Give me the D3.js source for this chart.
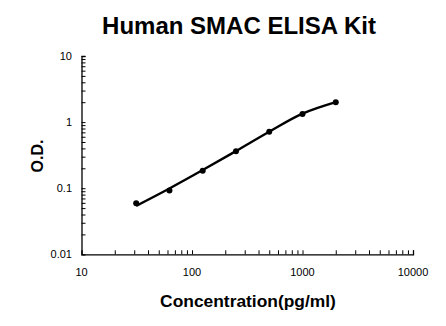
<!DOCTYPE html>
<html><head><meta charset="utf-8">
<script src="https://cdn.jsdelivr.net/npm/d3@7"></script>
<style>body{margin:0;background:#fff}svg{display:block}text{font-family:"Liberation Sans",Arial,sans-serif}</style>
</head><body>
<svg id="c" width="446" height="326"></svg>
<script>
const concentrations = [31.25, 62.5, 125, 250, 500, 1000, 2000];
const odValues = [0.059, 0.092, 0.184, 0.361, 0.716, 1.33, 2.0];
const fitValues = [0.054, 0.099, 0.188, 0.365, 0.715, 1.34, 2.0];
const xTickLabels = [10, 100, 1000, 10000];
const yTickLabels = [0.01, 0.1, 1, 10];
const titleText = "Human SMAC ELISA Kit";
const xLabel = "Concentration(pg/ml)";
const yLabel = "O.D.";

const svg = d3.select("#c");
const x = d3.scaleLog().domain([10, 10000]).range([81.5, 413]);
const y = d3.scaleLog().domain([0.01, 10]).range([254.3, 56]);

const xMinor = [];
for (let d = 10; d < 10000; d *= 10) for (let k = 2; k <= 10; k++) xMinor.push(d * k);
const yMinor = [];
for (let d = 0.01; d < 9; d *= 10) for (let k = 2; k <= 10; k++) yMinor.push(+(d * k).toPrecision(3));

const gx = svg.append("g").attr("transform", "translate(0,254.3)")
  .call(d3.axisBottom(x).tickValues(xMinor).tickSize(-4).tickFormat(""));
const gy = svg.append("g").attr("transform", "translate(81.5,0)")
  .call(d3.axisLeft(y).tickValues(yMinor).tickSize(-4).tickFormat(""));
[gx, gy].forEach(g => {
  g.select(".domain").attr("stroke", "#000").attr("stroke-width", 1.3);
  g.selectAll(".tick line").attr("stroke", "#000").attr("stroke-width", 1);
});

svg.append("g").selectAll("text").data(xTickLabels).join("text")
  .attr("x", d => x(d)).attr("y", 276).attr("text-anchor", "middle")
  .attr("font-size", 11).text(d => d);
svg.append("g").selectAll("text").data(yTickLabels).join("text")
  .attr("x", 72).attr("y", d => y(d) + 4).attr("text-anchor", "end")
  .attr("font-size", 11).text(d => d);

const line = d3.line().x((d, i) => x(concentrations[i])).y(d => y(d)).curve(d3.curveCatmullRom);
svg.append("path").datum(fitValues).attr("d", line)
  .attr("fill", "none").attr("stroke", "#000").attr("stroke-width", 2.4);

svg.append("g").selectAll("circle").data(odValues).join("circle")
  .attr("cx", (d, i) => x(concentrations[i])).attr("cy", d => y(d)).attr("r", 3).attr("fill", "#000");

svg.append("text").attr("x", 239).attr("y", 34).attr("text-anchor", "middle")
  .attr("font-size", 24).attr("font-weight", "bold").text(titleText);
svg.append("text").attr("x", 248).attr("y", 307).attr("text-anchor", "middle")
  .attr("font-size", 17.4).attr("font-weight", "bold").text(xLabel);
svg.append("text").attr("transform", "translate(43,156) rotate(-90)").attr("text-anchor", "middle")
  .attr("font-size", 16).attr("font-weight", "bold").text(yLabel);
</script>
</body></html>
